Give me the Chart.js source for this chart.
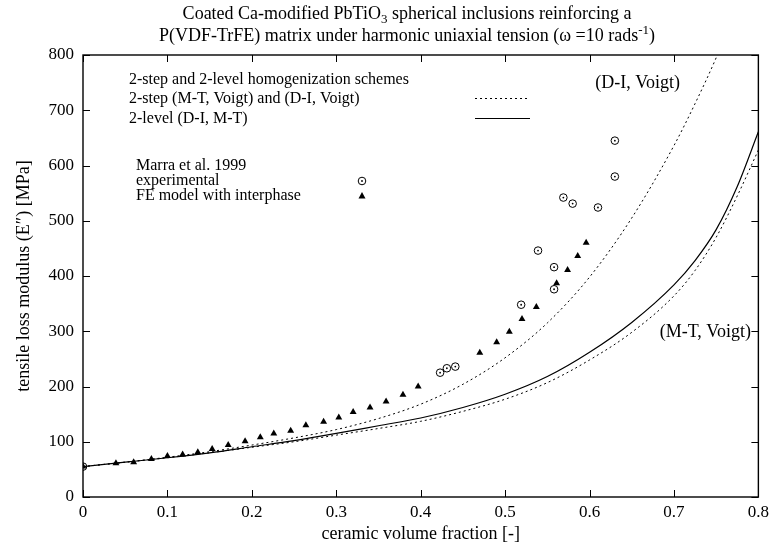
<!DOCTYPE html>
<html>
<head>
<meta charset="utf-8">
<script src="https://cdn.jsdelivr.net/npm/chart.js@4"></script>
<style>
html, body { margin: 0; padding: 0; background: #fff; }
#wrap { width: 774px; height: 546px; }
</style>
</head>
<body>
<div id="wrap"><canvas id="loss-chart" width="774" height="546"></canvas></div>
<script>
// model curves, all on the same volume fraction grid
const volFrac  = [0, 0.05, 0.1, 0.15, 0.2, 0.25, 0.3, 0.35, 0.4, 0.45, 0.5, 0.55, 0.6, 0.65, 0.7, 0.725, 0.75, 0.775, 0.8];
const diVoigt  = [55, 63, 72, 82, 94, 107, 122, 142, 168, 204, 252, 315, 398, 505, 636, 712, 795, 890, 995];
const mtVoigt  = [55, 63, 71, 80, 90, 100, 112, 124, 137, 155, 177, 207, 248, 298, 364, 410, 470, 545, 628];
const twoLevel = [55, 63, 71, 80, 91, 102, 115, 129, 143, 162, 186, 218, 262, 316, 384, 428, 484, 562, 661];

// Marra et al. 1999 experimental
const expFrac = [0, 0.423, 0.431, 0.441, 0.519, 0.539, 0.558, 0.558, 0.569, 0.580, 0.610, 0.630, 0.630];
const expLoss = [55, 225, 233, 236, 348, 446, 376, 416, 542, 531, 524, 580, 645];

// FE model with interphase
const feFrac = [0, 0.039, 0.060, 0.081, 0.100, 0.118, 0.136, 0.153, 0.172, 0.192, 0.210, 0.226, 0.246, 0.264, 0.285, 0.303, 0.320, 0.340, 0.359, 0.379, 0.397, 0.470, 0.490, 0.505, 0.520, 0.537, 0.561, 0.574, 0.586, 0.596];
const feLoss = [55, 61, 63, 69, 74, 77, 81, 87, 94, 101, 108, 115, 120, 130, 136, 144, 154, 162, 173, 185, 200, 261, 280, 299, 322, 344, 387, 411, 436, 460];

const xTicks = [0, 0.1, 0.2, 0.3, 0.4, 0.5, 0.6, 0.7, 0.8];
const yTicks = [0, 100, 200, 300, 400, 500, 600, 700, 800];

const SERIF = '"Liberation Serif", "Times New Roman", serif';

function pts(xs, ys) {
  return xs.map((x, i) => ({ x: x, y: ys[i] }));
}

// frame, inward ticks, title and the in-plot key
const decorations = {
  id: 'decorations',
  afterDraw(chart) {
    const ctx = chart.ctx;
    const a = chart.chartArea;
    const sx = chart.scales.x, sy = chart.scales.y;
    ctx.save();
    ctx.strokeStyle = '#000';
    ctx.lineWidth = 1.4;
    ctx.strokeRect(a.left, a.top, a.right - a.left, a.bottom - a.top);
    ctx.lineWidth = 1;
    ctx.beginPath();
    xTicks.forEach(v => {
      const p = Math.round(sx.getPixelForValue(v)) + 0.5;
      ctx.moveTo(p, a.bottom); ctx.lineTo(p, a.bottom - 7);
      ctx.moveTo(p, a.top); ctx.lineTo(p, a.top + 7);
    });
    yTicks.forEach(v => {
      const p = Math.round(sy.getPixelForValue(v)) + 0.5;
      ctx.moveTo(a.left, p); ctx.lineTo(a.left + 7, p);
      ctx.moveTo(a.right, p); ctx.lineTo(a.right - 7, p);
    });
    ctx.stroke();

    ctx.fillStyle = '#000';
    ctx.textBaseline = 'alphabetic';

    // title, two lines with sub/superscripts
    const titleFont = '18px ' + SERIF;
    const smallFont = '13px ' + SERIF;
    function runs(parts, cx, y) {
      let w = 0;
      parts.forEach(p => { ctx.font = p[1] ? smallFont : titleFont; w += ctx.measureText(p[0]).width; });
      let x = cx - w / 2;
      parts.forEach(p => {
        ctx.font = p[1] ? smallFont : titleFont;
        const dy = p[1] === 'sub' ? 4 : (p[1] === 'sup' ? -7 : 0);
        ctx.textAlign = 'left';
        ctx.fillText(p[0], x, y + dy);
        x += ctx.measureText(p[0]).width;
      });
    }
    const cx = 407;
    runs([['Coated Ca-modified PbTiO'], ['3', 'sub'], [' spherical inclusions reinforcing a']], cx, 19);
    runs([['P(VDF-TrFE) matrix under harmonic uniaxial tension (\u03c9 =10 rads'], ['-1', 'sup'], [')']], cx, 41);

    // key
    ctx.font = '16px ' + SERIF;
    ctx.textAlign = 'left';
    ctx.textBaseline = 'middle';
    ctx.fillText('2-step and 2-level homogenization schemes', 129, 80);
    ctx.fillText('2-step (M-T, Voigt) and (D-I, Voigt)', 129, 99);
    ctx.fillText('2-level (D-I, M-T)', 129, 119);
    ctx.fillText('Marra et al. 1999', 136, 166);
    ctx.fillText('experimental', 136, 181);
    ctx.fillText('FE model with interphase', 136, 196);

    ctx.lineWidth = 1;
    ctx.setLineDash([2, 3]);
    ctx.beginPath(); ctx.moveTo(475, 98.5); ctx.lineTo(530, 98.5); ctx.stroke();
    ctx.setLineDash([]);
    ctx.beginPath(); ctx.moveTo(475, 118.5); ctx.lineTo(530, 118.5); ctx.stroke();

    ctx.beginPath(); ctx.arc(362, 181, 3.8, 0, Math.PI * 2); ctx.stroke();
    ctx.beginPath(); ctx.arc(362, 181, 0.9, 0, Math.PI * 2); ctx.fill();
    ctx.beginPath();
    ctx.moveTo(362, 192); ctx.lineTo(365.5, 198.5); ctx.lineTo(358.5, 198.5); ctx.closePath(); ctx.fill();

    // curve labels
    ctx.font = '18px ' + SERIF;
    ctx.textAlign = 'right';
    ctx.fillText('(D-I, Voigt)', 680, 83);
    ctx.fillText('(M-T, Voigt)', 751, 332);
    ctx.restore();
  }
};

const ctx = document.getElementById('loss-chart').getContext('2d');

new Chart(ctx, {
  type: 'scatter',
  data: {
    datasets: [
      {
        label: '(D-I, Voigt)',
        data: pts(volFrac, diVoigt),
        showLine: true,
        borderColor: '#000',
        borderWidth: 1,
        borderDash: [2, 3],
        pointRadius: 0,
        cubicInterpolationMode: 'monotone'
      },
      {
        label: '(M-T, Voigt)',
        data: pts(volFrac, mtVoigt),
        showLine: true,
        borderColor: '#000',
        borderWidth: 1,
        borderDash: [2, 3],
        pointRadius: 0,
        cubicInterpolationMode: 'monotone'
      },
      {
        label: '2-level (D-I, M-T)',
        data: pts(volFrac, twoLevel),
        showLine: true,
        borderColor: '#000',
        borderWidth: 1.2,
        pointRadius: 0,
        cubicInterpolationMode: 'monotone'
      },
      {
        label: 'experimental',
        data: pts(expFrac, expLoss),
        pointStyle: 'circle',
        pointRadius: 3.8,
        borderWidth: 1,
        borderColor: '#000',
        backgroundColor: 'rgba(255,255,255,0)'
      },
      {
        label: 'experimental centre',
        data: pts(expFrac, expLoss),
        pointStyle: 'circle',
        pointRadius: 0.9,
        borderWidth: 0,
        backgroundColor: '#000'
      },
      {
        label: 'FE model with interphase',
        data: pts(feFrac, feLoss),
        pointStyle: 'triangle',
        pointRadius: 4,
        borderWidth: 0,
        backgroundColor: '#000'
      }
    ]
  },
  options: {
    responsive: false,
    animation: false,
    devicePixelRatio: 1,
    layout: { padding: { top: 55, right: 11, left: 0, bottom: 0 } },
    plugins: {
      legend: { display: false },
      tooltip: { enabled: false }
    },
    scales: {
      x: {
        type: 'linear',
        min: 0,
        max: 0.8,
        afterBuildTicks: s => { s.ticks = xTicks.map(v => ({ value: v })); },
        afterFit: s => { s.height = 49; },
        ticks: {
          color: '#000',
          font: { family: SERIF, size: 17 },
          padding: 5,
          maxRotation: 0,
          callback: v => (v === 0 ? '0' : v.toFixed(1))
        },
        grid: { display: false, drawTicks: false },
        border: { display: false },
        title: {
          display: true,
          text: 'ceramic volume fraction [-]',
          color: '#000',
          font: { family: SERIF, size: 18 },
          padding: { top: 0, bottom: 1 }
        }
      },
      y: {
        min: 0,
        max: 800,
        afterBuildTicks: s => { s.ticks = yTicks.map(v => ({ value: v })); },
        afterFit: s => { s.width = 83; },
        ticks: {
          color: '#000',
          font: { family: SERIF, size: 17 },
          padding: 9
        },
        grid: { display: false, drawTicks: false },
        border: { display: false },
        title: {
          display: true,
          text: 'tensile loss modulus (E\u2033) [MPa]',
          color: '#000',
          font: { family: SERIF, size: 18 },
          padding: { top: 13, bottom: 0 }
        }
      }
    }
  },
  plugins: [decorations]
});
</script>
</body>
</html>
